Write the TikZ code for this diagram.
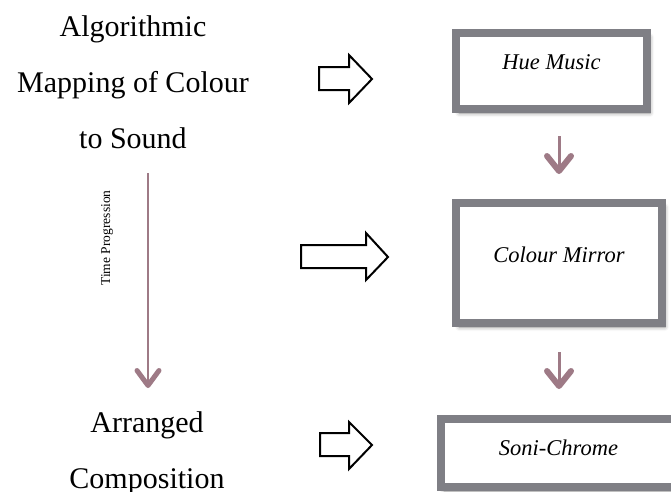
\documentclass[tikz,border=0pt]{standalone}
\usepackage{fontspec}
\setmainfont{Liberation Serif}
\usetikzlibrary{arrows.meta,shadows.blur}
\definecolor{boxgray}{RGB}{127,127,133}
\definecolor{mauve}{RGB}{158,122,134}
\tikzset{
  stagebox/.style={draw=boxgray, line width=8pt, fill=white, inner sep=0pt,
    blur shadow={shadow xshift=3pt, shadow yshift=-4pt, shadow blur radius=4pt, shadow opacity=45}},
  boxtext/.style={font=\fontsize{22.5}{26}\selectfont\itshape, inner sep=0pt},
  sidetext/.style={font=\fontsize{30}{56}\selectfont, align=center, inner sep=0pt, anchor=north},
  hollow/.style={draw=black, line width=2pt, fill=white, line join=miter},
  flow/.style={draw=mauve, line width=3pt, -{Straight Barb[length=15pt,width=24pt,line width=0pt 2,round]}},
  timeflow/.style={draw=mauve, line width=2pt, -{Straight Barb[length=15pt,width=22pt,line width=0pt 2.5,round]}}
}
\begin{document}
\begin{tikzpicture}[x=1pt,y=-1pt]
\useasboundingbox (0,0) rectangle (671,491);
\clip (0,0) rectangle (671,491);
% left texts
\node[sidetext] (alg) at (133,15.5) {Algorithmic\\Mapping of Colour\\to Sound};
\node[sidetext] (arr) at (147,411.5) {Arranged\\Composition};
% time arrow
\coordinate (ttop) at (148,173);
\coordinate (tbot) at (148,388);
\draw[timeflow] (ttop) -- (tbot);
\node[font=\fontsize{13.5}{16}\selectfont, rotate=90, inner sep=0pt] (time) at (107,238) {Time Progression};
% hollow arrows
\draw[hollow] (319,67) -- (349,67) -- (349,55) -- (372,79) -- (349,103) -- (349,90) -- (319,90) -- cycle;
\draw[hollow] (301,245) -- (366,245) -- (366,233) -- (388,257) -- (366,280) -- (366,268) -- (301,268) -- cycle;
\draw[hollow] (320,433) -- (349,433) -- (349,422) -- (372,445) -- (349,469) -- (349,456) -- (320,456) -- cycle;
% boxes
\node[stagebox, minimum width=191pt, minimum height=76pt] (hue) at (551.5,71) {};
\node[boxtext] (huet) at ([yshift=8.5pt]hue.center) {Hue Music};
\node[stagebox, minimum width=206pt, minimum height=120pt] (mirror) at (559,263) {};
\node[boxtext] (mirrort) at ([yshift=8.5pt]mirror.center) {Colour Mirror};
\node[stagebox, minimum width=235pt, minimum height=68pt] (soni) at (558.5,453) {};
\node[boxtext] (sonit) at ([yshift=5.5pt]soni.center) {Soni-Chrome};
% flow arrows
\draw[flow, shorten <=23pt, shorten >=25pt] (hue.south -| mirror.north) -- (mirror.north);
\draw[flow, shorten <=25pt, shorten >=26pt] (mirror.south) -- (mirror.south |- soni.north);
\end{tikzpicture}
\end{document}
